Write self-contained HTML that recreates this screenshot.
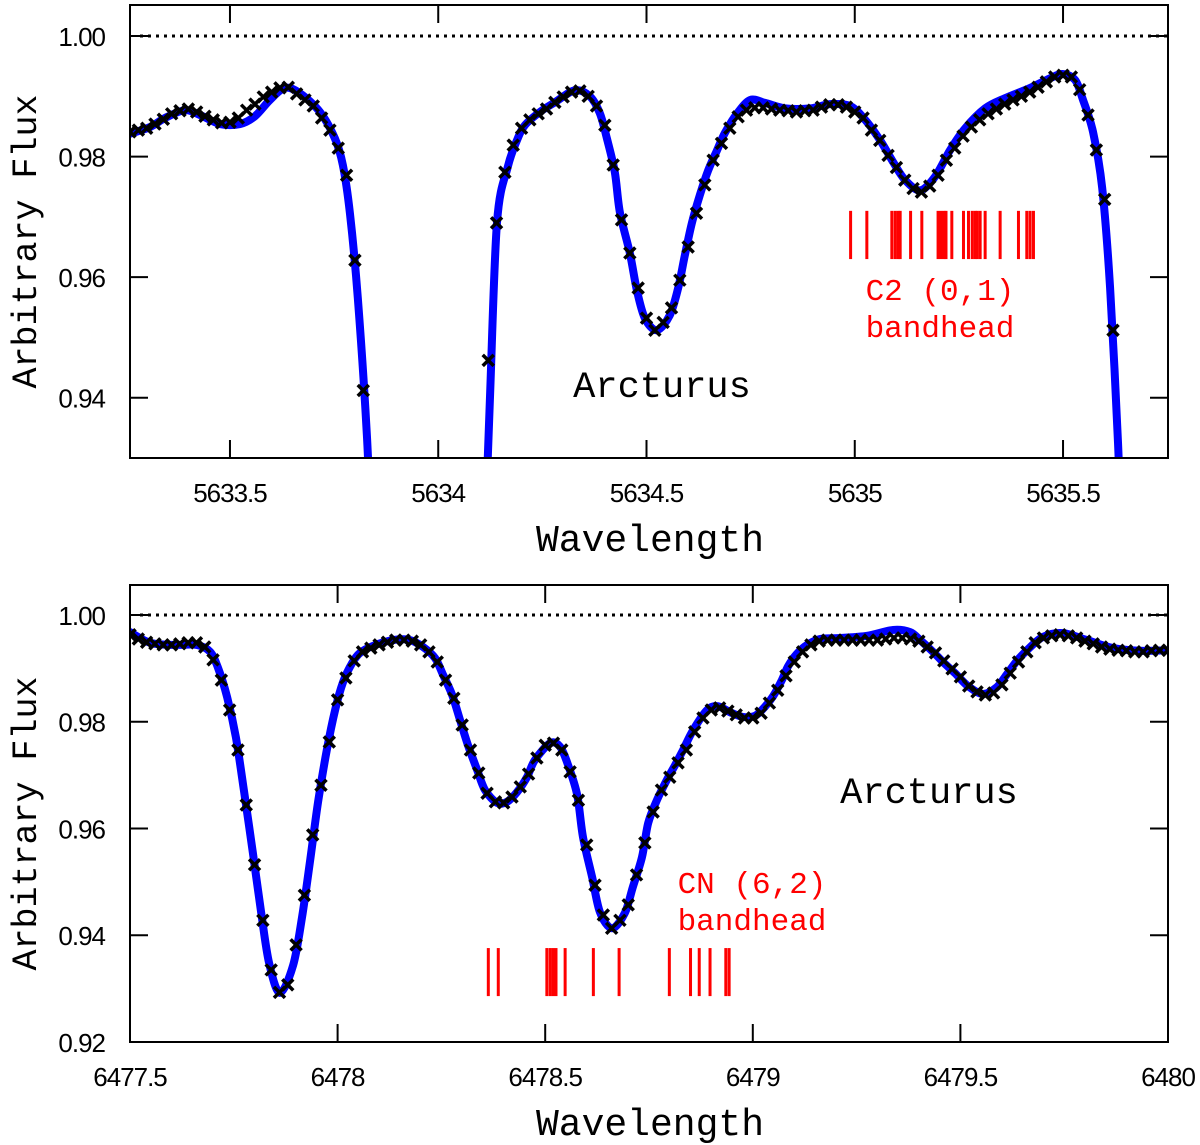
<!DOCTYPE html>
<html><head><meta charset="utf-8"><style>
html,body{margin:0;padding:0;background:#fff;}
svg{display:block;}
.tick{font-family:"Liberation Sans",sans-serif;font-size:26px;letter-spacing:-1px;fill:#000;}
.mono{font-family:"Liberation Mono",monospace;}
</style></head><body>
<svg id="chart" width="1200" height="1145" viewBox="0 0 1200 1145" xmlns="http://www.w3.org/2000/svg">
<defs>
<clipPath id="clipTop"><rect x="130" y="5" width="1038" height="453"/></clipPath>
<clipPath id="clipBot"><rect x="130" y="585" width="1038" height="457"/></clipPath>
</defs>
<g id="top"></g>
<g id="bot"></g>
</svg>
<script>
// ---------- TOP PANEL DATA ----------
const topXTicks = [5633.5, 5634, 5634.5, 5635, 5635.5];
const topXTickLabels = ["5633.5", "5634", "5634.5", "5635", "5635.5"];
const topYTicks = [1.00, 0.98, 0.96, 0.94];
const topYTickLabels = ["1.00", "0.98", "0.96", "0.94"];
const topModelWl = [5633.260,5633.308,5633.344,5633.392,5633.428,5633.476,5633.524,5633.560,5633.596,5633.632,5633.668,5633.716,5633.752,5633.771,5633.788,5633.807,5633.829,5633.841,5633.855,5633.872,5634.076,5634.095,5634.110,5634.124,5634.141,5634.167,5634.189,5634.208,5634.244,5634.280,5634.328,5634.364,5634.388,5634.405,5634.424,5634.436,5634.460,5634.477,5634.496,5634.525,5634.556,5634.576,5634.592,5634.609,5634.628,5634.648,5634.669,5634.688,5634.717,5634.749,5634.785,5634.833,5634.893,5634.941,5634.989,5635.025,5635.061,5635.092,5635.121,5635.157,5635.193,5635.229,5635.265,5635.313,5635.361,5635.421,5635.469,5635.498,5635.529,5635.548,5635.572,5635.594,5635.613,5635.632,5635.642,5635.661,5635.752];
const topModelFlux = [.9838,.9849,.9864,.9877,.9869,.9854,.9854,.9867,.9894,.9914,.9905,.9874,.9830,.9786,.9706,.9565,.9334,.913,.890,.85,.85,.890,.913,.9396,.969,.9783,.9827,.9852,.9874,.989,.991,.990,.9872,.983,.9774,.9708,.964,.9578,.9532,.9512,.9537,.9582,.9636,.969,.9736,.9777,.981,.9839,.9871,.9894,.9889,.988,.988,.9887,.9884,.9861,.9827,.9791,.9761,.9744,.9767,.9811,.9847,.988,.9897,.9914,.993,.9937,.9927,.9894,.9841,.9748,.9582,.9325,.913,.89,.85];
const topObsStart = 5633.26, topObsStep = 0.02;
const topObsFlux = [.9841,.9844,.9847,.9854,.9862,.9871,.9876,.9879,.9874,.9867,.9861,.9856,.9857,.9864,.9877,.9887,.9899,.9907,.9914,.9915,.9904,.9894,.9884,.9864,.9844,.9814,.9769,.9628,.9412,.913,
 .88,.87,.86,.85,.85,.85,.85,.85,.85,.86,.87,.88,.90,
 .9462,.9690,.9774,.9819,.9847,.9861,.9871,.9879,.9890,.9899,.9907,.9909,.9900,.9884,.9852,.9786,.9695,.9640,.9582,.9532,.9512,.9525,.9549,.9595,.9650,.9706,.9753,.9794,.9822,.9847,.9866,.9877,.9881,.9881,.9879,.9877,.9876,.9874,.9876,.9877,.9882,.9886,.9886,.9882,.9874,.9864,.9844,.9827,.9802,.9782,.9761,.9747,.9741,.9751,.9769,.9794,.9814,.9834,.9849,.9861,.9871,.9879,.9887,.9894,.9900,.9907,.9915,.9924,.9932,.9935,.9932,.9911,.9869,.9811,.9729,.9512,.923,.88,.87,.86,.86,.86];
const topLines = [5634.990,5635.029,5635.089,5635.097,5635.104,5635.109,5635.134,5635.161,5635.200,5635.207,5635.214,5635.219,5635.233,5635.261,5635.273,5635.282,5635.289,5635.294,5635.301,5635.313,5635.349,5635.393,5635.413,5635.421,5635.429];

// ---------- BOTTOM PANEL DATA ----------
const botXTicks = [6477.5, 6478, 6478.5, 6479, 6479.5, 6480];
const botXTickLabels = ["6477.5", "6478", "6478.5", "6479", "6479.5", "6480"];
const botYTicks = [1.00, 0.98, 0.96, 0.94, 0.92];
const botYTickLabels = ["1.00", "0.98", "0.96", "0.94", "0.92"];
const botModelWl = [6477.500,6477.548,6477.604,6477.661,6477.693,6477.712,6477.734,6477.755,6477.775,6477.796,6477.816,6477.835,6477.861,6477.893,6477.914,6477.934,6477.953,6477.974,6477.994,6478.013,6478.035,6478.054,6478.085,6478.133,6478.174,6478.206,6478.235,6478.254,6478.276,6478.295,6478.314,6478.336,6478.355,6478.384,6478.408,6478.432,6478.456,6478.475,6478.512,6478.536,6478.555,6478.577,6478.591,6478.613,6478.632,6478.661,6478.692,6478.711,6478.733,6478.748,6478.769,6478.793,6478.813,6478.832,6478.856,6478.890,6478.916,6478.945,6478.976,6479.005,6479.029,6479.049,6479.070,6479.085,6479.106,6479.131,6479.162,6479.210,6479.275,6479.338,6479.379,6479.403,6479.434,6479.458,6479.487,6479.518,6479.554,6479.588,6479.612,6479.636,6479.663,6479.699,6479.747,6479.805,6479.868,6479.933,6480.000];
const botModelFlux = [.9968,.9948,.9944,.9944,.9931,.9901,.9846,.9771,.9668,.9554,.9442,.9348,.9292,.9344,.9432,.9541,.9650,.9747,.9822,.9874,.9910,.9929,.9942,.9953,.9953,.9940,.9919,.9888,.9850,.9803,.9756,.9710,.9672,.9648,.9650,.9668,.9696,.9728,.9760,.9753,.9719,.9663,.9584,.9509,.9443,.9413,.9442,.9490,.9546,.9610,.9653,.9691,.9719,.9747,.9784,.9822,.9829,.9818,.9809,.9811,.9828,.9848,.9878,.9904,.9927,.9944,.9955,.9957,.9961,.9972,.9968,.9953,.9931,.9912,.9891,.9867,.9852,.9865,.9889,.9914,.9936,.9959,.9966,.9953,.9938,.9933,.9934];
const botObsStart = 6477.50, botObsStep = 0.02;
const botObsFlux = [.9963,.9955,.9949,.9946,.9944,.9944,.9946,.9948,.9948,.9940,.9916,.9878,.9822,.9747,.9644,.9532,.9428,.9335,.9293,.9307,.9382,.9475,.9588,.9681,.9762,.9841,.9882,.9914,.9931,.9938,.9944,.9949,.9953,.9953,.9951,.9944,.9931,.9912,.9878,.9844,.9794,.9747,.9704,.9666,.9650,.9648,.9659,.9678,.9702,.9732,.9756,.9760,.9747,.9706,.9653,.9569,.9494,.9438,.9413,.9428,.9457,.9513,.9573,.9631,.9672,.9696,.9723,.9747,.9781,.9807,.9822,.9826,.9820,.9813,.9807,.9807,.9816,.9835,.9859,.9886,.9912,.9931,.9944,.9951,.9953,.9953,.9953,.9953,.9953,.9953,.9953,.9955,.9957,.9957,.9955,.9951,.9940,.9929,.9914,.9899,.9884,.9867,.9856,.9850,.9854,.9869,.9891,.9912,.9931,.9948,.9957,.9961,.9963,.9961,.9957,.9951,.9946,.9940,.9936,.9934,.9933,.9931,.9931,.9933,.9934,.9934];
const botLines = [6478.363,6478.387,6478.504,6478.512,6478.519,6478.526,6478.548,6478.616,6478.678,6478.799,6478.850,6478.871,6478.897,6478.935,6478.943];

const NS = "http://www.w3.org/2000/svg";
function mk(tag, attrs, parent){
  const e = document.createElementNS(NS, tag);
  for (const k in attrs) e.setAttribute(k, attrs[k]);
  parent.appendChild(e);
  return e;
}
function smoothPath(pts){
  let d = "M" + pts[0][0].toFixed(2) + "," + pts[0][1].toFixed(2);
  for (let i = 0; i < pts.length - 1; i++){
    const p0 = pts[Math.max(0,i-1)], p1 = pts[i], p2 = pts[i+1], p3 = pts[Math.min(pts.length-1,i+2)];
    const t = 0.16;
    const c1x = p1[0] + (p2[0]-p0[0])*t, c1y = p1[1] + (p2[1]-p0[1])*t;
    const c2x = p2[0] - (p3[0]-p1[0])*t, c2y = p2[1] - (p3[1]-p1[1])*t;
    d += " C" + c1x.toFixed(2) + "," + c1y.toFixed(2) + " " + c2x.toFixed(2) + "," + c2y.toFixed(2) + " " + p2[0].toFixed(2) + "," + p2[1].toFixed(2);
  }
  return d;
}

function panel(g, cfg){
  const {x0,x1,y0,y1,wmin,wmax,fmin,fmax,clip} = cfg;
  const X = w => x0 + (w - wmin) / (wmax - wmin) * (x1 - x0);
  const Y = f => y1 - (f - fmin) / (fmax - fmin) * (y1 - y0);

  const cont = mk("line", {x1: x0 + 10, x2: x1, y1: Y(1.0), y2: Y(1.0), stroke: "#000", "stroke-width": 3, "stroke-dasharray": "3,5"}, g);
  
  

  const cg = mk("g", {"clip-path": "url(#" + clip + ")"}, g);
  
  

  const pts = cfg.modelWl.map((w, i) => [X(w), Y(cfg.modelFlux[i])]);
  const line = mk("path", {d: smoothPath(pts), fill: "none", stroke: "#0000ff", "stroke-width": 8, "stroke-linejoin": "round", "stroke-linecap": "round"}, cg);
  
  

  const s = 5.5;
  cfg.obsFlux.forEach((f, i) => {
    const cx = X(cfg.obsStart + i * cfg.obsStep), cy = Y(f);
    const m = mk("path", {d: `M${cx-s},${cy-s}L${cx+s},${cy+s}M${cx-s},${cy+s}L${cx+s},${cy-s}`, stroke: "#000", "stroke-width": 3.5, fill: "none"}, cg);
    
    
  });

  const lg = mk("g", {}, g);
  
  
  cfg.lines.forEach(w => {
    const l = mk("line", {x1: X(w), x2: X(w), y1: Y(cfg.lineTop), y2: Y(cfg.lineBot), stroke: "#ff0000", "stroke-width": 3}, lg);
    
    
  });

  const fr = mk("rect", {x: x0, y: y0, width: x1 - x0, height: y1 - y0, fill: "none", stroke: "#000", "stroke-width": 2}, g);
  
  

  cfg.xTicks.forEach((w, i) => {
    const x = X(w);
    const t1 = mk("line", {x1: x, x2: x, y1: y1, y2: y1 - 18, stroke: "#000", "stroke-width": 2}, g);
    
    
    const t2 = mk("line", {x1: x, x2: x, y1: y0, y2: y0 + 18, stroke: "#000", "stroke-width": 2}, g);
    
    
    const tl = mk("text", {x: x, y: y1 + 44, "text-anchor": "middle", class: "tick"}, g);
    tl.textContent = cfg.xTickLabels[i];
    
    
  });
  cfg.yTicks.forEach((f, i) => {
    const y = Y(f);
    const t1 = mk("line", {x1: x0, x2: x0 + 18, y1: y, y2: y, stroke: "#000", "stroke-width": 2}, g);
    
    
    const t2 = mk("line", {x1: x1, x2: x1 - 18, y1: y, y2: y, stroke: "#000", "stroke-width": 2}, g);
    
    
    const tl = mk("text", {x: x0 - 25, y: y + 10, "text-anchor": "end", class: "tick"}, g);
    tl.textContent = cfg.yTickLabels[i];
    
    
  });

  const yt = mk("text", {x: 0, y: 0, "text-anchor": "middle", class: "mono", "font-size": 35, transform: `translate(36,${(y0 + y1) / 2 + 10}) rotate(-90)`}, g);
  yt.textContent = "Arbitrary Flux";
  
  
  const xt = mk("text", {x: 650, y: y1 + 93, "text-anchor": "middle", class: "mono", "font-size": 38}, g);
  xt.textContent = "Wavelength";
  
  

  const st = mk("text", {x: cfg.starX, y: cfg.starY, "text-anchor": "middle", class: "mono", "font-size": 37}, g);
  st.textContent = "Arcturus";
  
  
  const b1 = mk("text", {x: cfg.bandX, y: cfg.bandY, "text-anchor": "middle", class: "mono", "font-size": 31, fill: "#ff0000"}, g);
  b1.textContent = cfg.bandName;
  
  
  const b2 = mk("text", {x: cfg.bandX, y: cfg.bandY + 37, "text-anchor": "middle", class: "mono", "font-size": 31, fill: "#ff0000"}, g);
  b2.textContent = "bandhead";
  
  
}

panel(document.getElementById("top"), {
  x0: 130, x1: 1168, y0: 5, y1: 458,
  wmin: 5633.26, wmax: 5635.752, fmin: 0.93, fmax: 1.00515, clip: "clipTop",
  modelWl: topModelWl, modelFlux: topModelFlux,
  obsStart: topObsStart, obsStep: topObsStep, obsFlux: topObsFlux,
  lines: topLines, lineTop: 0.9710, lineBot: 0.9630,
  xTicks: topXTicks, xTickLabels: topXTickLabels, yTicks: topYTicks, yTickLabels: topYTickLabels,
  starX: 662, starY: 397, bandX: 940, bandY: 300, bandName: "C2 (0,1)"
});
panel(document.getElementById("bot"), {
  x0: 130, x1: 1168, y0: 585, y1: 1042,
  wmin: 6477.5, wmax: 6480.0, fmin: 0.92, fmax: 1.00562, clip: "clipBot",
  modelWl: botModelWl, modelFlux: botModelFlux,
  obsStart: botObsStart, obsStep: botObsStep, obsFlux: botObsFlux,
  lines: botLines, lineTop: 0.9376, lineBot: 0.9286,
  xTicks: botXTicks, xTickLabels: botXTickLabels, yTicks: botYTicks, yTickLabels: botYTickLabels,
  starX: 929, starY: 803, bandX: 752, bandY: 893, bandName: "CN (6,2)"
});
</script>
</body></html>
